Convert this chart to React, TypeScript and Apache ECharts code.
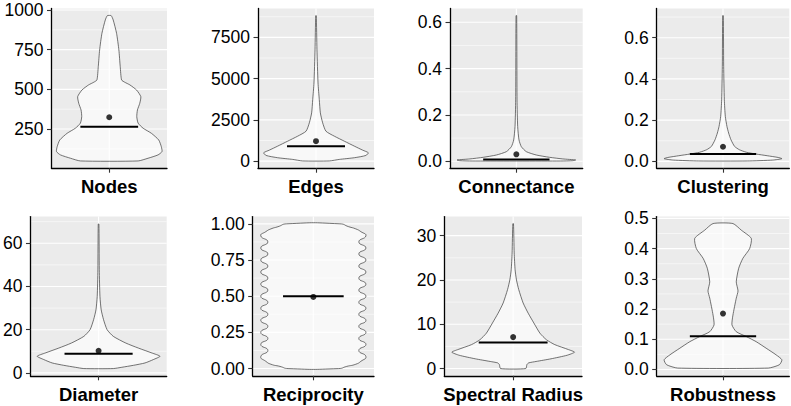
import React, { useEffect, useRef } from "react";
import * as echarts from "echarts";

// ---------- data ----------
const panelNames = ["Nodes", "Edges", "Connectance", "Clustering", "Diameter", "Reciprocity", "Spectral Radius", "Robustness"];

// y-axis ranges (data range with 5% expansion)
const yMins = [3.25, -430, -0.03, -0.033, -1.35, -0.05, -1.635, -0.021];
const yMaxs = [1009.75, 9257, 0.66, 0.742, 72.35, 1.05, 34.3, 0.506];

// major ticks and their labels
const nodesTicks = [250, 500, 750, 1000];
const nodesTickLabels = ["250", "500", "750", "1000"];
const edgesTicks = [0, 2500, 5000, 7500];
const edgesTickLabels = ["0", "2500", "5000", "7500"];
const connTicks = [0, 0.2, 0.4, 0.6];
const connTickLabels = ["0.0", "0.2", "0.4", "0.6"];
const clustTicks = [0, 0.2, 0.4, 0.6];
const clustTickLabels = ["0.0", "0.2", "0.4", "0.6"];
const diamTicks = [0, 20, 40, 60];
const diamTickLabels = ["0", "20", "40", "60"];
const recipTicks = [0, 0.25, 0.5, 0.75, 1];
const recipTickLabels = ["0.00", "0.25", "0.50", "0.75", "1.00"];
const specTicks = [0, 10, 20, 30];
const specTickLabels = ["0", "10", "20", "30"];
const robTicks = [0, 0.1, 0.2, 0.3, 0.4, 0.5];
const robTickLabels = ["0.0", "0.1", "0.2", "0.3", "0.4", "0.5"];

// minor grid values
const nodesMinor = [125, 375, 625, 875];
const edgesMinor = [1250, 3750, 6250, 8750];
const connMinor = [0.1, 0.3, 0.5];
const clustMinor = [0.1, 0.3, 0.5, 0.7];
const diamMinor = [10, 30, 50, 70];
const recipMinor = [0.125, 0.375, 0.625, 0.875];
const specMinor = [5, 15, 25];
const robMinor = [0.05, 0.15, 0.25, 0.35, 0.45];

// violin profiles: [value, half-width] from bottom to top
const nodesViolin = [
  [49, 0.3], [66, 0.403], [87, 0.507], [108, 0.548], [139, 0.541], [181, 0.514], [223, 0.438],
  [255, 0.352], [287, 0.3], [328, 0.286], [370, 0.293], [412, 0.317], [454, 0.328], [496, 0.283],
  [528, 0.214], [545, 0.16], [559, 0.128], [643, 0.114], [748, 0.1], [853, 0.076], [937, 0.041], [964, 0.02],
];
const edgesViolin = [
  [10, 0.138], [103, 0.241], [205, 0.397], [344, 0.517], [507, 0.541], [664, 0.483], [906, 0.397],
  [1208, 0.293], [1510, 0.19], [1812, 0.103], [2319, 0.069], [2923, 0.045], [3726, 0.034],
  [4734, 0.021], [6745, 0.01], [8817, 0.003],
];
const connViolin = [
  [0.001, 0.4], [0.0025, 0.51], [0.0056, 0.536], [0.01, 0.42], [0.017, 0.3], [0.027, 0.18],
  [0.0415, 0.09], [0.063, 0.045], [0.092, 0.024], [0.15, 0.012], [0.265, 0.006], [0.629, 0.003],
];
const clustViolin = [
  [0.002, 0.22], [0.0065, 0.45], [0.0131, 0.533], [0.019, 0.5], [0.0275, 0.4], [0.0356, 0.3],
  [0.0445, 0.21], [0.0567, 0.148], [0.0726, 0.105], [0.105, 0.072], [0.1375, 0.051], [0.169, 0.036],
  [0.218, 0.021], [0.299, 0.012], [0.46, 0.006], [0.707, 0.003],
];
const diamViolin = [
  [2.0, 0.13], [2.6, 0.205], [3.5, 0.307], [4.6, 0.409], [6.15, 0.482], [7.7, 0.541], [9.2, 0.47],
  [11.5, 0.35], [13.8, 0.24], [16.9, 0.13], [20, 0.075], [24.6, 0.044], [29.2, 0.023], [35.4, 0.012],
  [47.7, 0.006], [68.9, 0.003],
];
const recipViolin = [
  [0, 0.25], [0.015, 0.33], [0.03, 0.42], [0.05, 0.47], [0.083, 0.52], [0.125, 0.45], [0.167, 0.52],
  [0.208, 0.45], [0.25, 0.52], [0.292, 0.45], [0.333, 0.52], [0.375, 0.45], [0.417, 0.52], [0.458, 0.45],
  [0.5, 0.52], [0.542, 0.45], [0.583, 0.52], [0.625, 0.45], [0.667, 0.52], [0.708, 0.45], [0.75, 0.52],
  [0.792, 0.45], [0.833, 0.52], [0.875, 0.45], [0.917, 0.52], [0.946, 0.47], [0.965, 0.42], [0.98, 0.35],
  [1.0, 0.263],
];
const specViolin = [
  [0, 0.11], [0.9, 0.12], [1.28, 0.135], [1.6, 0.2], [2.2, 0.33], [3.0, 0.47], [3.7, 0.535],
  [4.3, 0.48], [5.4, 0.363], [6.5, 0.29], [8.0, 0.233], [10.3, 0.18], [12.5, 0.131], [14.8, 0.087],
  [17.8, 0.049], [20.0, 0.029], [22.3, 0.017], [26.1, 0.009], [32.7, 0.003],
];
const robViolin = [
  [0.0046, 0.41], [0.0155, 0.51], [0.032, 0.533], [0.0485, 0.48], [0.0705, 0.39], [0.092, 0.3],
  [0.109, 0.21], [0.125, 0.12], [0.1475, 0.081], [0.18, 0.09], [0.236, 0.12], [0.26, 0.136],
  [0.29, 0.12], [0.335, 0.142], [0.368, 0.18], [0.4, 0.241], [0.434, 0.256], [0.461, 0.166], [0.483, 0.09],
];

const medians = [265, 906, 0.008, 0.036, 8.9, 0.5, 5.9, 0.11];
const means = [324, 1208, 0.03, 0.071, 10.2, 0.495, 7.1, 0.185];

// ---------- layout ----------
const gridBoxes = [
  [51.5, 8.4, 115.5, 159.8],
  [258, 8.4, 116, 159.8],
  [450, 8.4, 132.7, 159.8],
  [656.7, 8.4, 132.6, 159.8],
  [30, 216.6, 136.7, 159.2],
  [252.7, 216.6, 121.3, 159.2],
  [444.3, 216.6, 137.7, 159.2],
  [656.7, 216.6, 132.6, 159.2],
];

const ticksAll = [nodesTicks, edgesTicks, connTicks, clustTicks, diamTicks, recipTicks, specTicks, robTicks];
const labelsAll = [nodesTickLabels, edgesTickLabels, connTickLabels, clustTickLabels, diamTickLabels, recipTickLabels, specTickLabels, robTickLabels];
const minorAll = [nodesMinor, edgesMinor, connMinor, clustMinor, diamMinor, recipMinor, specMinor, robMinor];
const violinAll = [nodesViolin, edgesViolin, connViolin, clustViolin, diamViolin, recipViolin, specViolin, robViolin];

function buildOption() {
  const grid: any[] = [];
  const xAxis: any[] = [];
  const yAxis: any[] = [];
  const series: any[] = [];

  panelNames.forEach((name, i) => {
    const [l, t, w, h] = gridBoxes[i];
    grid.push({
      left: l, top: t, width: w, height: h, show: true,
      backgroundColor: "#EBEBEB", borderWidth: 0, containLabel: false,
    });
    xAxis.push({
      gridIndex: i, type: "value", min: -0.6, max: 0.6, interval: 0.6,
      axisLine: { show: true, onZero: false, lineStyle: { color: "#000", width: 1.3 } },
      axisTick: { show: true, customValues: [0], length: 4.5, lineStyle: { color: "#333", width: 1.1 } },
      axisLabel: {
        show: true, customValues: [0], margin: 9,
        formatter: (v: number) => (Math.abs(v) < 1e-9 ? name : ""),
        color: "#000", fontSize: 18.5, fontWeight: "bold", fontFamily: "Liberation Sans, Arial, sans-serif",
      },
      splitLine: { show: false },
      z: 10,
    });
    const ticks = ticksAll[i];
    const labels = labelsAll[i];
    yAxis.push({
      gridIndex: i, type: "value", min: yMins[i], max: yMaxs[i],
      axisLine: { show: true, onZero: false, lineStyle: { color: "#000", width: 1.3 } },
      axisTick: { show: true, customValues: ticks, length: 4.5, lineStyle: { color: "#333", width: 1.1 } },
      axisLabel: {
        show: true, customValues: ticks, margin: 8,
        formatter: (v: number) => {
          const k = ticks.findIndex((tv) => Math.abs(tv - v) < 1e-9);
          return k >= 0 ? labels[k] : "";
        },
        color: "#000", fontSize: 17.5, fontFamily: "Liberation Sans, Arial, sans-serif",
      },
      splitLine: { show: false },
      z: 10,
    });

    // grid lines (major + minor horizontal)
    const gl = ticks.map((v) => [v, 1]).concat(minorAll[i].map((v) => [v, 0]));
    series.push({
      type: "custom", xAxisIndex: i, yAxisIndex: i, silent: true, z: 1,
      encode: { y: 0 },
      data: gl,
      renderItem: (params: any, api: any) => {
        const v = api.value(0);
        const major = api.value(1);
        const a = api.coord([-0.6, v]);
        const b = api.coord([0.6, v]);
        return {
          type: "line",
          shape: { x1: a[0], y1: a[1], x2: b[0], y2: b[1] },
          style: { stroke: "#FFFFFF", lineWidth: major ? 1.1 : 0.55 },
        };
      },
    });
    // vertical center major grid line
    series.push({
      type: "line", xAxisIndex: i, yAxisIndex: i, silent: true, z: 1,
      data: [[0, yMins[i]], [0, yMaxs[i]]], symbol: "none",
      lineStyle: { color: "#FFFFFF", width: 1.1 },
    });
    // violin
    const prof = violinAll[i];
    series.push({
      type: "custom", xAxisIndex: i, yAxisIndex: i, silent: true, z: 3,
      data: [[0, prof[0][0]]],
      renderItem: (params: any, api: any) => {
        const left = prof.map(([v, hw]) => api.coord([-hw, v]));
        const right = prof.slice().reverse().map(([v, hw]) => api.coord([hw, v]));
        return {
          type: "polygon",
          shape: { points: left.concat(right), smooth: i === 5 ? 0.6 : 0.2 },
          style: { fill: "rgba(255,255,255,0.65)", stroke: "#3a3a3a", lineWidth: 0.7 },
        };
      },
    });
    // median crossbar
    series.push({
      type: "line", xAxisIndex: i, yAxisIndex: i, silent: true, z: 4,
      data: [[-0.3, medians[i]], [0.3, medians[i]]], symbol: "none",
      lineStyle: { color: "#000", width: 2 },
    });
    // mean point
    series.push({
      type: "scatter", xAxisIndex: i, yAxisIndex: i, silent: true, z: 5,
      data: [[0, means[i]]], symbol: "circle", symbolSize: 6,
      itemStyle: { color: "#000" },
    });
  });

  return { animation: false, backgroundColor: "#FFFFFF", grid, xAxis, yAxis, series };
}

export default function App() {
  const ref = useRef<HTMLDivElement>(null);
  useEffect(() => {
    if (!ref.current) return;
    const chart = echarts.init(ref.current, undefined, { renderer: "svg" });
    chart.setOption(buildOption() as any);
    return () => chart.dispose();
  }, []);
  return (
    <div
      ref={ref}
      style={{ position: "absolute", left: 0, top: 0, width: 791, height: 406 }}
    />
  );
}
